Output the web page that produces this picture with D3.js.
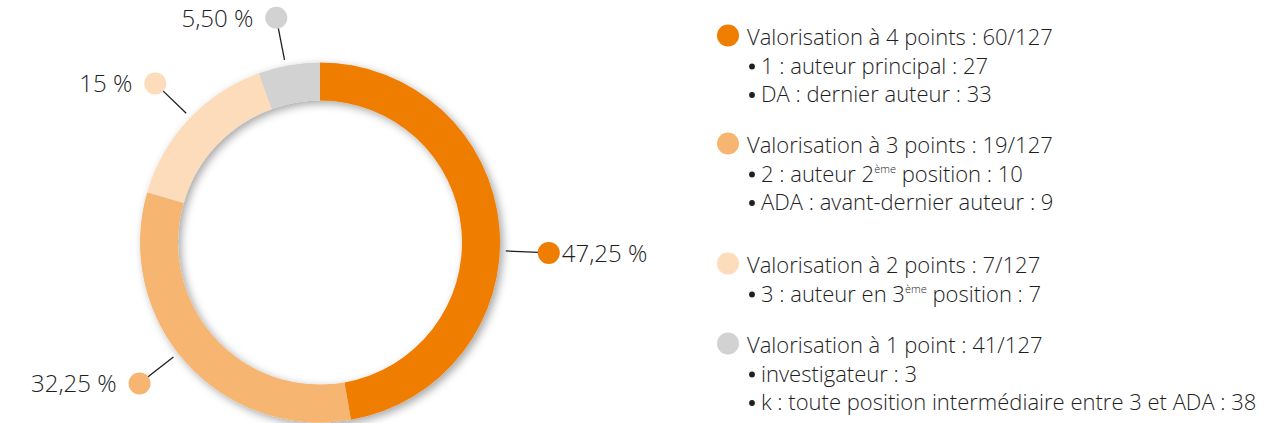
<!DOCTYPE html>
<html><head><meta charset="utf-8">
<script src="https://cdn.jsdelivr.net/npm/d3@7"></script>
<style>
html,body{margin:0;padding:0;background:#fff;}
svg{display:block;}
text{font-family:"Open Sans","Noto Sans",sans-serif;fill:#1e1e1e;font-weight:300;}
</style></head><body>
<svg id="chart" width="1267" height="423"></svg>
<script>
// ---- data ----
const categories = ["Valorisation à 4 points", "Valorisation à 3 points", "Valorisation à 2 points", "Valorisation à 1 point"];
const shares = [47.25, 32.25, 15, 5.5];
const shareLabels = ["47,25\u00a0%", "32,25\u00a0%", "15\u00a0%", "5,50\u00a0%"];
const counts = ["60/127", "19/127", "7/127", "41/127"];
const details = [
  [["1 : auteur principal : 27"], ["DA : dernier auteur : 33"]],
  [["2 : auteur 2", "ème", " position : 10"], ["ADA : avant-dernier auteur : 9"]],
  [["3 : auteur en 3", "ème", " position : 7"]],
  [["investigateur : 3"], ["k : toute position intermédiaire entre 3 et ADA : 38"]]
];
const colors = ["#ef7d00", "#f7b572", "#fddcbb", "#d1d2d1"];

// ---- layout ----
const cx = 320, cy = 242.5, rOuter = 180, rInner = 142;
const labelAngles = [92.6, 232, 314, 349]; // degrees clockwise from top
const dotR = 11, dotDist = 229, lineStart = 186;
const legendX = 728, legendTextX = 747, bulletX = 752, bulletTextX = 761;
const groupY = [45, 153, 273, 353];
const lineH = 28.5;
const fs = 22, fsLab = 24;

const svg = d3.select("#chart");
const defs = svg.append("defs");
const f = defs.append("filter").attr("id", "sh").attr("x", "-20%").attr("y", "-20%").attr("width", "140%").attr("height", "140%");
f.append("feDropShadow").attr("dx", 3).attr("dy", 3).attr("stdDeviation", 4).attr("flood-color", "#000").attr("flood-opacity", 0.35);

const pie = d3.pie().sort(null).value(d => d);
const arcs = pie(shares);
const arc = d3.arc().innerRadius(rInner).outerRadius(rOuter);

const g = svg.append("g").attr("transform", `translate(${cx},${cy})`);
g.append("g").attr("filter", "url(#sh)")
  .selectAll("path").data(arcs).join("path")
  .attr("d", arc).attr("fill", (d, i) => colors[i]);

// labels
const pt = (deg, r) => { const a = deg * Math.PI / 180; return [r * Math.sin(a), -r * Math.cos(a)]; };
arcs.forEach((d, i) => {
  const ang = labelAngles[i];
  const p0 = pt(ang, lineStart), p1 = pt(ang, dotDist - dotR + 1), pd = pt(ang, dotDist);
  g.append("line").attr("x1", p0[0]).attr("y1", p0[1]).attr("x2", p1[0]).attr("y2", p1[1])
    .attr("stroke", "#1e1e1e").attr("stroke-width", 1.3);
  g.append("circle").attr("cx", pd[0]).attr("cy", pd[1]).attr("r", dotR).attr("fill", colors[i]);
  const right = Math.sin(ang * Math.PI / 180) > 0;
  g.append("text").attr("x", pd[0] + (right ? dotR + 2 : -(dotR + 12)))
    .attr("y", pd[1] + 9).attr("text-anchor", right ? "start" : "end")
    .attr("font-size", fsLab).text(shareLabels[i]);
});

// legend
const leg = svg.append("g");
categories.forEach((c, i) => {
  const y0 = groupY[i];
  leg.append("circle").attr("cx", legendX).attr("cy", y0 - 9.5).attr("r", dotR).attr("fill", colors[i]);
  leg.append("text").attr("x", legendTextX).attr("y", y0).attr("font-size", fs).text(`${c} : ${counts[i]}`);
  details[i].forEach((parts, j) => {
    const y = y0 + lineH * (j + 1);
    leg.append("circle").attr("cx", bulletX).attr("cy", y - 7).attr("r", 2.9).attr("fill", "#1e1e1e");
    const t = leg.append("text").attr("x", bulletTextX).attr("y", y).attr("font-size", fs);
    parts.forEach((p, k) => {
      if (k === 1) {
        t.append("tspan").attr("font-size", fs * 0.5).attr("dy", -9).text(p);
      } else if (k === 2) {
        t.append("tspan").attr("dy", 9).text(p);
      } else {
        t.append("tspan").text(p);
      }
    });
  });
});
</script>
</body></html>
